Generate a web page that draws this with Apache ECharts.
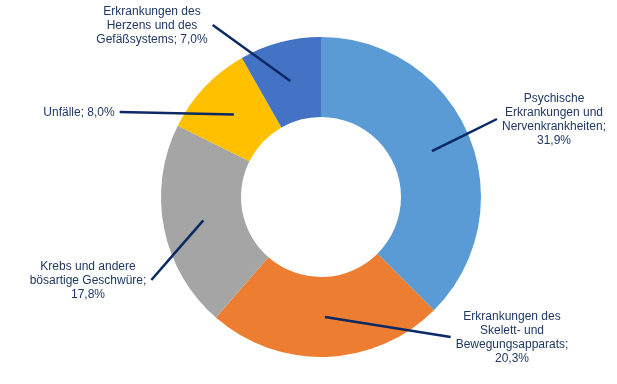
<!DOCTYPE html>
<html><head><meta charset="utf-8">
<script src="https://cdn.jsdelivr.net/npm/echarts@6/dist/echarts.min.js"></script>
<style>html,body{margin:0;padding:0;background:#fff}#c{width:617px;height:384px}</style>
</head><body><div id="c"></div>
<script>
// Data
var categories = [
  'Psychische\nErkrankungen und\nNervenkrankheiten',
  'Erkrankungen des\nSkelett- und\nBewegungsapparats',
  'Krebs und andere\nbösartige Geschwüre',
  'Unfälle',
  'Erkrankungen des\nHerzens und des\nGefäßsystems'
];
var values = [31.9, 20.3, 17.8, 8.0, 7.0];

// Styles / layout
var colors = ['#5B9BD5', '#ED7D31', '#A5A5A5', '#FFC000', '#4472C4'];
var separators = ['\n', '\n', '\n', ' ', ' '];
var labelCenters = [[554, 120], [512, 338], [88, 281], [79, 113], [152, 26]];
var labelSide = ['right', 'right', 'left', 'left', 'left'];
var CX = 321, CY = 197, R_IN = 80, R_OUT = 160, R_LINE = 120;

var total = values.reduce(function (a, b) { return a + b; }, 0);
function midAngle(i) {
  var cum = 0;
  for (var k = 0; k < i; k++) cum += values[k];
  return (90 - (cum + values[i] / 2) / total * 360) * Math.PI / 180;
}

var chart = echarts.init(document.getElementById('c'));
chart.setOption({
  backgroundColor: '#fff',
  animation: false,
  series: [{
    type: 'pie',
    z: 2,
    center: [CX, CY],
    radius: [R_IN, R_OUT],
    startAngle: 90,
    clockwise: true,
    itemStyle: { borderWidth: 0 },
    label: { show: false },
    labelLine: { show: false },
    data: categories.map(function (n, i) {
      return { name: n, value: values[i], itemStyle: { color: colors[i] } };
    })
  }, {
    type: 'pie',
    z: 5,
    silent: true,
    center: [CX, CY],
    radius: [R_IN, R_OUT],
    startAngle: 90,
    clockwise: true,
    avoidLabelOverlap: false,
    itemStyle: { borderWidth: 0, color: 'rgba(0,0,0,0)' },
    data: categories.map(function (n, i) {
      return { name: n, value: values[i] };
    }),
    label: {
      show: true,
      position: 'outside',
      fontFamily: 'Liberation Sans, Arial, sans-serif',
      fontSize: 12,
      lineHeight: 14,
      color: '#1F3864',
      align: 'center',
      formatter: function (p) {
        return p.name + ';' + separators[p.dataIndex] + p.value.toFixed(1).replace('.', ',') + '%';
      }
    },
    labelLine: {
      show: true,
      length: 10,
      length2: 10,
      lineStyle: { color: '#0B2A64', width: 2.5 }
    },
    labelLayout: function (params) {
      var i = params.dataIndex;
      var c = labelCenters[i];
      var w = params.labelRect.width;
      var a = midAngle(i);
      var sx = CX + R_LINE * Math.cos(a), sy = CY - R_LINE * Math.sin(a);
      var ex = labelSide[i] === 'right' ? c[0] - w / 2 - 5 : c[0] + w / 2 + 5;
      var ey = c[1] - 1;
      return {
        x: c[0], y: c[1], align: 'center', verticalAlign: 'middle',
        labelLinePoints: [[sx, sy], [(sx + ex) / 2, (sy + ey) / 2], [ex, ey]]
      };
    }
  }]
});
</script></body></html>
